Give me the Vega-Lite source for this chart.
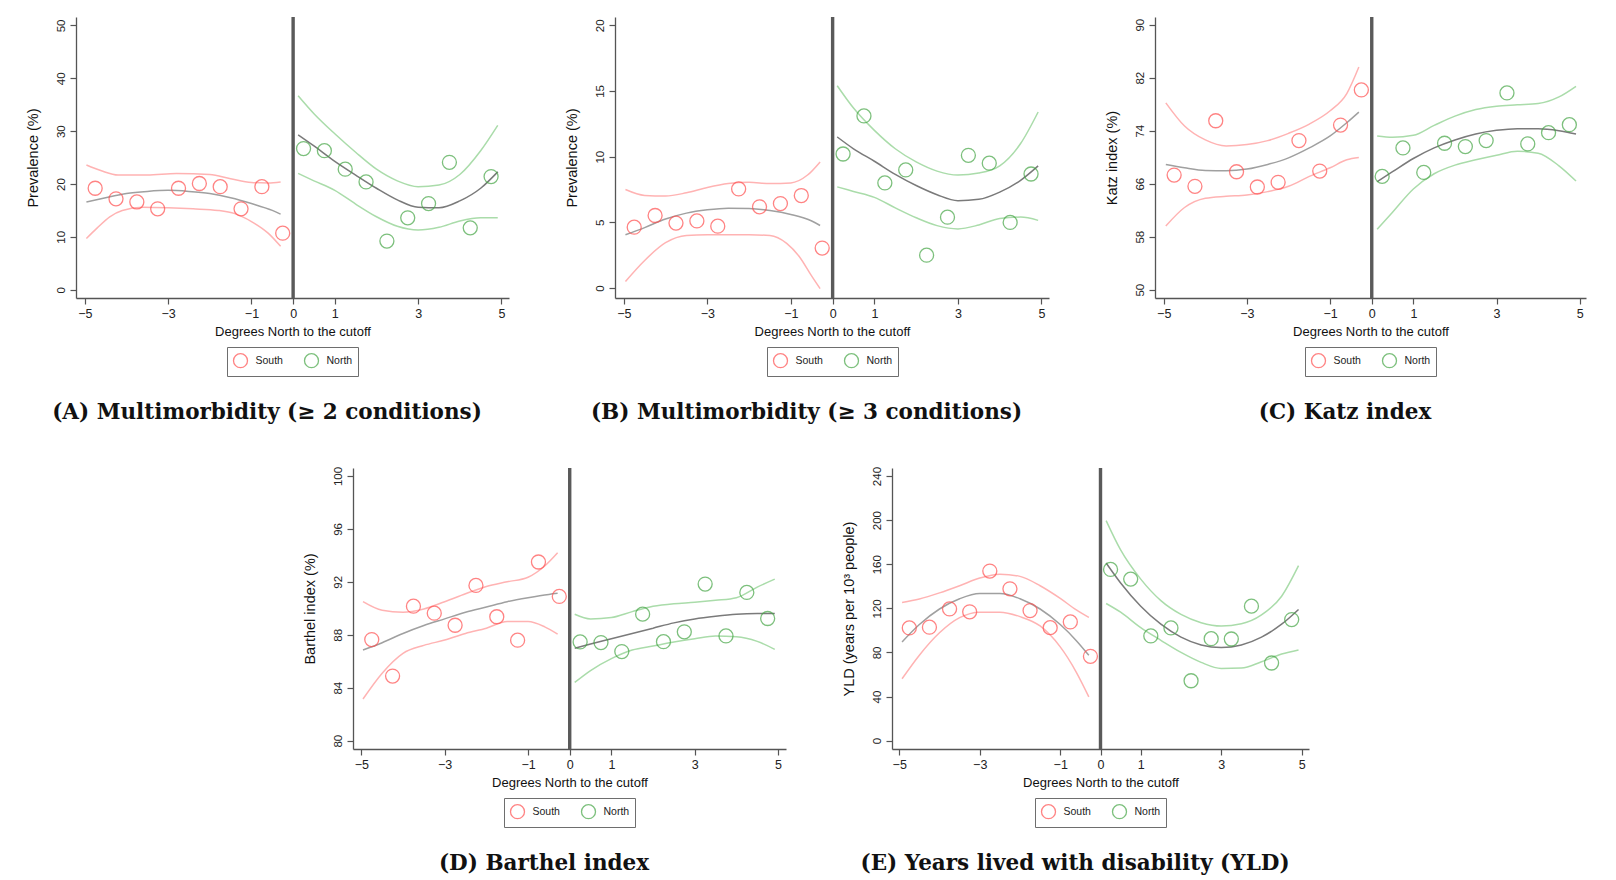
{
  "$schema": "https://vega.github.io/schema/vega-lite/v6.json",
  "background": "white",
  "padding": {"left": 25, "top": 15, "right": 5, "bottom": 5},
  "config": {
    "view": {"stroke": null},
    "axis": {
      "grid": false,
      "domainColor": "#555555",
      "domainWidth": 1.3,
      "tickColor": "#555555",
      "tickWidth": 1.2,
      "tickSize": 6,
      "labelFont": "Liberation Sans",
      "titleFont": "Liberation Sans",
      "labelColor": "#222222",
      "titleColor": "#111111",
      "titleFontWeight": "normal"
    },
    "axisX": {"labelFontSize": 12.5, "titleFontSize": 13, "labelPadding": 3, "titlePadding": 6},
    "axisY": {"labelAngle": -90, "labelAlign": "center", "labelBaseline": "bottom", "labelFontSize": 11.5, "titleFontSize": 14.5, "labelPadding": 4, "titlePadding": 15},
    "legend": {
      "orient": "bottom",
      "direction": "horizontal",
      "strokeColor": "#6e6e6e",
      "padding": 5.5,
      "symbolType": "circle",
      "symbolSize": 196,
      "symbolStrokeWidth": 1.3,
      "labelFont": "Liberation Sans",
      "labelFontSize": 10.5,
      "labelColor": "#222222",
      "labelOffset": 7,
      "columnPadding": 18,
      "offset": 8,
      "layout": {"bottom": {"anchor": "middle"}}
    },
    "title": {"orient": "bottom", "anchor": "middle", "frame": "bounds", "font": "DejaVu Serif", "fontSize": 21.5, "fontWeight": "bold", "color": "#111111", "offset": 25}
  },
  "datasets": {
    "ptsA": [
      {"side": "South", "x": -4.75, "y": 19.2}, {"side": "South", "x": -4.25, "y": 17.2}, {"side": "South", "x": -3.75, "y": 16.6}, {"side": "South", "x": -3.25, "y": 15.3}, {"side": "South", "x": -2.75, "y": 19.2},
      {"side": "South", "x": -2.25, "y": 20.1}, {"side": "South", "x": -1.75, "y": 19.5}, {"side": "South", "x": -1.25, "y": 15.3}, {"side": "South", "x": -0.75, "y": 19.5}, {"side": "South", "x": -0.25, "y": 10.7},
      {"side": "North", "x": 0.25, "y": 26.7}, {"side": "North", "x": 0.75, "y": 26.3}, {"side": "North", "x": 1.25, "y": 22.8}, {"side": "North", "x": 1.75, "y": 20.4}, {"side": "North", "x": 2.25, "y": 9.2},
      {"side": "North", "x": 2.75, "y": 13.6}, {"side": "North", "x": 3.25, "y": 16.3}, {"side": "North", "x": 3.75, "y": 24.1}, {"side": "North", "x": 4.25, "y": 11.7}, {"side": "North", "x": 4.75, "y": 21.4}
    ],
    "crvA": [
      {"line": "S-fit", "x": -4.96, "y": 16.6}, {"line": "S-fit", "x": -4.5, "y": 17.4}, {"line": "S-fit", "x": -4, "y": 18.2}, {"line": "S-fit", "x": -3.5, "y": 18.6}, {"line": "S-fit", "x": -3, "y": 18.8}, {"line": "S-fit", "x": -2.5, "y": 18.6}, {"line": "S-fit", "x": -2, "y": 18.2}, {"line": "S-fit", "x": -1.5, "y": 17.4}, {"line": "S-fit", "x": -1, "y": 16.3}, {"line": "S-fit", "x": -0.5, "y": 15.0}, {"line": "S-fit", "x": -0.3, "y": 14.3},
      {"line": "S-hi", "x": -4.96, "y": 23.6}, {"line": "S-hi", "x": -4.6, "y": 22.5}, {"line": "S-hi", "x": -4.2, "y": 21.7}, {"line": "S-hi", "x": -3.5, "y": 21.7}, {"line": "S-hi", "x": -2.8, "y": 22.0}, {"line": "S-hi", "x": -2, "y": 21.8}, {"line": "S-hi", "x": -1.5, "y": 21.0}, {"line": "S-hi", "x": -1, "y": 20.3}, {"line": "S-hi", "x": -0.6, "y": 20.2}, {"line": "S-hi", "x": -0.3, "y": 20.4},
      {"line": "S-lo", "x": -4.96, "y": 9.7}, {"line": "S-lo", "x": -4.7, "y": 11.7}, {"line": "S-lo", "x": -4.4, "y": 13.8}, {"line": "S-lo", "x": -4.1, "y": 15.0}, {"line": "S-lo", "x": -3.6, "y": 15.6}, {"line": "S-lo", "x": -3, "y": 15.5}, {"line": "S-lo", "x": -2.4, "y": 15.3}, {"line": "S-lo", "x": -1.8, "y": 15.0}, {"line": "S-lo", "x": -1.4, "y": 14.4}, {"line": "S-lo", "x": -1, "y": 12.9}, {"line": "S-lo", "x": -0.6, "y": 10.7}, {"line": "S-lo", "x": -0.3, "y": 8.2},
      {"line": "N-fit", "x": 0.12, "y": 29.3}, {"line": "N-fit", "x": 0.5, "y": 27.2}, {"line": "N-fit", "x": 1, "y": 24.3}, {"line": "N-fit", "x": 1.5, "y": 21.7}, {"line": "N-fit", "x": 2, "y": 19.2}, {"line": "N-fit", "x": 2.5, "y": 17.0}, {"line": "N-fit", "x": 3, "y": 15.6}, {"line": "N-fit", "x": 3.5, "y": 15.5}, {"line": "N-fit", "x": 4, "y": 16.8}, {"line": "N-fit", "x": 4.5, "y": 19.2}, {"line": "N-fit", "x": 4.91, "y": 22.3},
      {"line": "N-hi", "x": 0.12, "y": 36.7}, {"line": "N-hi", "x": 0.5, "y": 33.3}, {"line": "N-hi", "x": 1, "y": 29.5}, {"line": "N-hi", "x": 1.5, "y": 26.0}, {"line": "N-hi", "x": 2, "y": 22.8}, {"line": "N-hi", "x": 2.5, "y": 20.6}, {"line": "N-hi", "x": 3, "y": 19.5}, {"line": "N-hi", "x": 3.5, "y": 19.8}, {"line": "N-hi", "x": 4, "y": 21.8}, {"line": "N-hi", "x": 4.5, "y": 26.3}, {"line": "N-hi", "x": 4.91, "y": 31.1},
      {"line": "N-lo", "x": 0.12, "y": 22.0}, {"line": "N-lo", "x": 0.5, "y": 20.6}, {"line": "N-lo", "x": 1, "y": 18.8}, {"line": "N-lo", "x": 1.5, "y": 16.2}, {"line": "N-lo", "x": 2, "y": 13.8}, {"line": "N-lo", "x": 2.5, "y": 12.0}, {"line": "N-lo", "x": 3, "y": 11.3}, {"line": "N-lo", "x": 3.5, "y": 11.8}, {"line": "N-lo", "x": 4, "y": 13.0}, {"line": "N-lo", "x": 4.5, "y": 13.6}, {"line": "N-lo", "x": 4.91, "y": 13.6}
    ],
    "ptsB": [
      {"side": "South", "x": -4.75, "y": 4.63}, {"side": "South", "x": -4.25, "y": 5.52}, {"side": "South", "x": -3.75, "y": 4.94}, {"side": "South", "x": -3.25, "y": 5.11}, {"side": "South", "x": -2.75, "y": 4.71},
      {"side": "South", "x": -2.25, "y": 7.54}, {"side": "South", "x": -1.75, "y": 6.18}, {"side": "South", "x": -1.25, "y": 6.43}, {"side": "South", "x": -0.75, "y": 7.04}, {"side": "South", "x": -0.25, "y": 3.04},
      {"side": "North", "x": 0.25, "y": 10.2}, {"side": "North", "x": 0.75, "y": 13.1}, {"side": "North", "x": 1.25, "y": 8.0}, {"side": "North", "x": 1.75, "y": 8.99}, {"side": "North", "x": 2.25, "y": 2.5},
      {"side": "North", "x": 2.75, "y": 5.39}, {"side": "North", "x": 3.25, "y": 10.1}, {"side": "North", "x": 3.75, "y": 9.5}, {"side": "North", "x": 4.25, "y": 4.99}, {"side": "North", "x": 4.75, "y": 8.68}
    ],
    "crvB": [
      {"line": "S-fit", "x": -4.96, "y": 4.05}, {"line": "S-fit", "x": -4.5, "y": 4.6}, {"line": "S-fit", "x": -4, "y": 5.25}, {"line": "S-fit", "x": -3.5, "y": 5.7}, {"line": "S-fit", "x": -3, "y": 5.95}, {"line": "S-fit", "x": -2.5, "y": 6.07}, {"line": "S-fit", "x": -2, "y": 6.05}, {"line": "S-fit", "x": -1.5, "y": 5.9}, {"line": "S-fit", "x": -1, "y": 5.6}, {"line": "S-fit", "x": -0.5, "y": 5.1}, {"line": "S-fit", "x": -0.3, "y": 4.76},
      {"line": "S-hi", "x": -4.96, "y": 7.5}, {"line": "S-hi", "x": -4.5, "y": 7.05}, {"line": "S-hi", "x": -4, "y": 7.0}, {"line": "S-hi", "x": -3.5, "y": 7.25}, {"line": "S-hi", "x": -3, "y": 7.65}, {"line": "S-hi", "x": -2.5, "y": 7.95}, {"line": "S-hi", "x": -2, "y": 8.05}, {"line": "S-hi", "x": -1.5, "y": 7.95}, {"line": "S-hi", "x": -1, "y": 8.0}, {"line": "S-hi", "x": -0.6, "y": 8.6}, {"line": "S-hi", "x": -0.3, "y": 9.6},
      {"line": "S-lo", "x": -4.96, "y": 0.5}, {"line": "S-lo", "x": -4.5, "y": 2.1}, {"line": "S-lo", "x": -4, "y": 3.45}, {"line": "S-lo", "x": -3.5, "y": 4.0}, {"line": "S-lo", "x": -3, "y": 4.05}, {"line": "S-lo", "x": -2, "y": 4.05}, {"line": "S-lo", "x": -1.5, "y": 4.0}, {"line": "S-lo", "x": -1.1, "y": 3.4}, {"line": "S-lo", "x": -0.8, "y": 2.4}, {"line": "S-lo", "x": -0.5, "y": 0.9}, {"line": "S-lo", "x": -0.3, "y": -0.05},
      {"line": "N-fit", "x": 0.11, "y": 11.5}, {"line": "N-fit", "x": 0.5, "y": 10.6}, {"line": "N-fit", "x": 1, "y": 9.65}, {"line": "N-fit", "x": 1.5, "y": 8.65}, {"line": "N-fit", "x": 2, "y": 7.8}, {"line": "N-fit", "x": 2.5, "y": 7.1}, {"line": "N-fit", "x": 3, "y": 6.65}, {"line": "N-fit", "x": 3.5, "y": 6.75}, {"line": "N-fit", "x": 4, "y": 7.3}, {"line": "N-fit", "x": 4.5, "y": 8.2}, {"line": "N-fit", "x": 4.92, "y": 9.3},
      {"line": "N-hi", "x": 0.11, "y": 15.4}, {"line": "N-hi", "x": 0.5, "y": 13.7}, {"line": "N-hi", "x": 1, "y": 12.0}, {"line": "N-hi", "x": 1.5, "y": 10.6}, {"line": "N-hi", "x": 2, "y": 9.6}, {"line": "N-hi", "x": 2.5, "y": 8.9}, {"line": "N-hi", "x": 3, "y": 8.6}, {"line": "N-hi", "x": 3.5, "y": 8.75}, {"line": "N-hi", "x": 4, "y": 9.3}, {"line": "N-hi", "x": 4.5, "y": 11.0}, {"line": "N-hi", "x": 4.92, "y": 13.4},
      {"line": "N-lo", "x": 0.11, "y": 7.7}, {"line": "N-lo", "x": 0.5, "y": 7.35}, {"line": "N-lo", "x": 1, "y": 6.9}, {"line": "N-lo", "x": 1.5, "y": 6.1}, {"line": "N-lo", "x": 2, "y": 5.35}, {"line": "N-lo", "x": 2.5, "y": 4.75}, {"line": "N-lo", "x": 3, "y": 4.5}, {"line": "N-lo", "x": 3.5, "y": 4.8}, {"line": "N-lo", "x": 4, "y": 5.3}, {"line": "N-lo", "x": 4.5, "y": 5.4}, {"line": "N-lo", "x": 4.92, "y": 5.15}
    ],
    "ptsC": [
      {"side": "South", "x": -4.75, "y": 67.3}, {"side": "South", "x": -4.25, "y": 65.6}, {"side": "South", "x": -3.75, "y": 75.5}, {"side": "South", "x": -3.25, "y": 67.8}, {"side": "South", "x": -2.75, "y": 65.5},
      {"side": "South", "x": -2.25, "y": 66.2}, {"side": "South", "x": -1.75, "y": 72.5}, {"side": "South", "x": -1.25, "y": 67.9}, {"side": "South", "x": -0.75, "y": 74.85}, {"side": "South", "x": -0.25, "y": 80.15},
      {"side": "North", "x": 0.25, "y": 67.1}, {"side": "North", "x": 0.75, "y": 71.4}, {"side": "North", "x": 1.25, "y": 67.7}, {"side": "North", "x": 1.75, "y": 72.1}, {"side": "North", "x": 2.25, "y": 71.6},
      {"side": "North", "x": 2.75, "y": 72.5}, {"side": "North", "x": 3.25, "y": 79.7}, {"side": "North", "x": 3.75, "y": 72.0}, {"side": "North", "x": 4.25, "y": 73.7}, {"side": "North", "x": 4.75, "y": 74.9}
    ],
    "crvC": [
      {"line": "S-fit", "x": -4.95, "y": 68.9}, {"line": "S-fit", "x": -4.5, "y": 68.4}, {"line": "S-fit", "x": -4, "y": 68.0}, {"line": "S-fit", "x": -3.5, "y": 67.95}, {"line": "S-fit", "x": -3, "y": 68.2}, {"line": "S-fit", "x": -2.5, "y": 68.9}, {"line": "S-fit", "x": -2, "y": 69.9}, {"line": "S-fit", "x": -1.5, "y": 71.4}, {"line": "S-fit", "x": -1, "y": 73.2}, {"line": "S-fit", "x": -0.6, "y": 75.2}, {"line": "S-fit", "x": -0.31, "y": 76.8},
      {"line": "S-hi", "x": -4.95, "y": 78.2}, {"line": "S-hi", "x": -4.5, "y": 74.7}, {"line": "S-hi", "x": -4, "y": 72.6}, {"line": "S-hi", "x": -3.5, "y": 71.7}, {"line": "S-hi", "x": -3, "y": 71.9}, {"line": "S-hi", "x": -2.5, "y": 72.5}, {"line": "S-hi", "x": -2, "y": 73.6}, {"line": "S-hi", "x": -1.5, "y": 75.0}, {"line": "S-hi", "x": -1, "y": 77.0}, {"line": "S-hi", "x": -0.6, "y": 79.6}, {"line": "S-hi", "x": -0.31, "y": 83.6},
      {"line": "S-lo", "x": -4.95, "y": 59.6}, {"line": "S-lo", "x": -4.5, "y": 62.4}, {"line": "S-lo", "x": -4, "y": 63.8}, {"line": "S-lo", "x": -3.5, "y": 64.1}, {"line": "S-lo", "x": -3, "y": 64.3}, {"line": "S-lo", "x": -2.5, "y": 64.8}, {"line": "S-lo", "x": -2, "y": 65.6}, {"line": "S-lo", "x": -1.5, "y": 67.1}, {"line": "S-lo", "x": -1, "y": 68.4}, {"line": "S-lo", "x": -0.6, "y": 69.6}, {"line": "S-lo", "x": -0.31, "y": 69.95},
      {"line": "N-fit", "x": 0.13, "y": 66.3}, {"line": "N-fit", "x": 0.5, "y": 67.8}, {"line": "N-fit", "x": 1, "y": 69.8}, {"line": "N-fit", "x": 1.5, "y": 71.4}, {"line": "N-fit", "x": 2, "y": 72.6}, {"line": "N-fit", "x": 2.5, "y": 73.5}, {"line": "N-fit", "x": 3, "y": 74.05}, {"line": "N-fit", "x": 3.5, "y": 74.3}, {"line": "N-fit", "x": 4, "y": 74.3}, {"line": "N-fit", "x": 4.5, "y": 74.0}, {"line": "N-fit", "x": 4.91, "y": 73.5},
      {"line": "N-hi", "x": 0.13, "y": 73.2}, {"line": "N-hi", "x": 0.5, "y": 73.0}, {"line": "N-hi", "x": 1, "y": 73.3}, {"line": "N-hi", "x": 1.5, "y": 74.8}, {"line": "N-hi", "x": 2, "y": 76.2}, {"line": "N-hi", "x": 2.5, "y": 77.2}, {"line": "N-hi", "x": 3, "y": 77.7}, {"line": "N-hi", "x": 3.5, "y": 77.9}, {"line": "N-hi", "x": 4, "y": 78.1}, {"line": "N-hi", "x": 4.5, "y": 79.1}, {"line": "N-hi", "x": 4.91, "y": 80.7},
      {"line": "N-lo", "x": 0.13, "y": 59.1}, {"line": "N-lo", "x": 0.5, "y": 61.7}, {"line": "N-lo", "x": 1, "y": 65.2}, {"line": "N-lo", "x": 1.5, "y": 67.5}, {"line": "N-lo", "x": 2, "y": 68.8}, {"line": "N-lo", "x": 2.5, "y": 69.6}, {"line": "N-lo", "x": 3, "y": 70.3}, {"line": "N-lo", "x": 3.5, "y": 70.9}, {"line": "N-lo", "x": 4, "y": 70.6}, {"line": "N-lo", "x": 4.5, "y": 68.7}, {"line": "N-lo", "x": 4.91, "y": 66.4}
    ],
    "ptsD": [
      {"side": "South", "x": -4.75, "y": 87.64}, {"side": "South", "x": -4.25, "y": 84.88}, {"side": "South", "x": -3.75, "y": 90.16}, {"side": "South", "x": -3.25, "y": 89.63}, {"side": "South", "x": -2.75, "y": 88.72},
      {"side": "South", "x": -2.25, "y": 91.73}, {"side": "South", "x": -1.75, "y": 89.36}, {"side": "South", "x": -1.25, "y": 87.59}, {"side": "South", "x": -0.75, "y": 93.5}, {"side": "South", "x": -0.25, "y": 90.9},
      {"side": "North", "x": 0.25, "y": 87.46}, {"side": "North", "x": 0.75, "y": 87.41}, {"side": "North", "x": 1.25, "y": 86.73}, {"side": "North", "x": 1.75, "y": 89.56}, {"side": "North", "x": 2.25, "y": 87.48},
      {"side": "North", "x": 2.75, "y": 88.22}, {"side": "North", "x": 3.25, "y": 91.83}, {"side": "North", "x": 3.75, "y": 87.91}, {"side": "North", "x": 4.25, "y": 91.2}, {"side": "North", "x": 4.75, "y": 89.23}
    ],
    "crvD": [
      {"line": "S-fit", "x": -4.96, "y": 86.85}, {"line": "S-fit", "x": -4.5, "y": 87.4}, {"line": "S-fit", "x": -4, "y": 88.1}, {"line": "S-fit", "x": -3.5, "y": 88.7}, {"line": "S-fit", "x": -3, "y": 89.2}, {"line": "S-fit", "x": -2.5, "y": 89.7}, {"line": "S-fit", "x": -2, "y": 90.1}, {"line": "S-fit", "x": -1.5, "y": 90.5}, {"line": "S-fit", "x": -1, "y": 90.8}, {"line": "S-fit", "x": -0.5, "y": 91.05}, {"line": "S-fit", "x": -0.29, "y": 91.13},
      {"line": "S-hi", "x": -4.96, "y": 90.5}, {"line": "S-hi", "x": -4.5, "y": 89.85}, {"line": "S-hi", "x": -4, "y": 89.7}, {"line": "S-hi", "x": -3.5, "y": 89.95}, {"line": "S-hi", "x": -3, "y": 90.5}, {"line": "S-hi", "x": -2.5, "y": 91.1}, {"line": "S-hi", "x": -2, "y": 91.65}, {"line": "S-hi", "x": -1.5, "y": 92.0}, {"line": "S-hi", "x": -1, "y": 92.35}, {"line": "S-hi", "x": -0.6, "y": 93.2}, {"line": "S-hi", "x": -0.29, "y": 94.2},
      {"line": "S-lo", "x": -4.96, "y": 83.15}, {"line": "S-lo", "x": -4.5, "y": 85.1}, {"line": "S-lo", "x": -4, "y": 86.6}, {"line": "S-lo", "x": -3.5, "y": 87.2}, {"line": "S-lo", "x": -3, "y": 87.6}, {"line": "S-lo", "x": -2.5, "y": 88.1}, {"line": "S-lo", "x": -2, "y": 88.5}, {"line": "S-lo", "x": -1.5, "y": 89.0}, {"line": "S-lo", "x": -1, "y": 89.0}, {"line": "S-lo", "x": -0.6, "y": 88.6}, {"line": "S-lo", "x": -0.29, "y": 88.05},
      {"line": "N-fit", "x": 0.12, "y": 86.98}, {"line": "N-fit", "x": 0.5, "y": 87.3}, {"line": "N-fit", "x": 1, "y": 87.7}, {"line": "N-fit", "x": 1.5, "y": 88.1}, {"line": "N-fit", "x": 2, "y": 88.5}, {"line": "N-fit", "x": 2.5, "y": 88.9}, {"line": "N-fit", "x": 3, "y": 89.2}, {"line": "N-fit", "x": 3.5, "y": 89.4}, {"line": "N-fit", "x": 4, "y": 89.55}, {"line": "N-fit", "x": 4.5, "y": 89.6}, {"line": "N-fit", "x": 4.92, "y": 89.6},
      {"line": "N-hi", "x": 0.12, "y": 89.55}, {"line": "N-hi", "x": 0.5, "y": 89.2}, {"line": "N-hi", "x": 1, "y": 89.3}, {"line": "N-hi", "x": 1.5, "y": 89.75}, {"line": "N-hi", "x": 2, "y": 90.15}, {"line": "N-hi", "x": 2.5, "y": 90.35}, {"line": "N-hi", "x": 3, "y": 90.45}, {"line": "N-hi", "x": 3.5, "y": 90.6}, {"line": "N-hi", "x": 4, "y": 90.8}, {"line": "N-hi", "x": 4.5, "y": 91.6}, {"line": "N-hi", "x": 4.92, "y": 92.2},
      {"line": "N-lo", "x": 0.12, "y": 84.4}, {"line": "N-lo", "x": 0.5, "y": 85.3}, {"line": "N-lo", "x": 1, "y": 86.2}, {"line": "N-lo", "x": 1.5, "y": 86.85}, {"line": "N-lo", "x": 2, "y": 87.15}, {"line": "N-lo", "x": 2.5, "y": 87.45}, {"line": "N-lo", "x": 3, "y": 87.7}, {"line": "N-lo", "x": 3.5, "y": 87.9}, {"line": "N-lo", "x": 4, "y": 87.85}, {"line": "N-lo", "x": 4.5, "y": 87.5}, {"line": "N-lo", "x": 4.92, "y": 86.9}
    ],
    "ptsE": [
      {"side": "South", "x": -4.75, "y": 102.2}, {"side": "South", "x": -4.25, "y": 102.9}, {"side": "South", "x": -3.75, "y": 119.5}, {"side": "South", "x": -3.25, "y": 116.8}, {"side": "South", "x": -2.75, "y": 153.8},
      {"side": "South", "x": -2.25, "y": 137.7}, {"side": "South", "x": -1.75, "y": 118.0}, {"side": "South", "x": -1.25, "y": 102.5}, {"side": "South", "x": -0.75, "y": 107.7}, {"side": "South", "x": -0.25, "y": 76.5},
      {"side": "North", "x": 0.25, "y": 155.3}, {"side": "North", "x": 0.75, "y": 146.5}, {"side": "North", "x": 1.25, "y": 95.0}, {"side": "North", "x": 1.75, "y": 102.2}, {"side": "North", "x": 2.25, "y": 54.3},
      {"side": "North", "x": 2.75, "y": 92.5}, {"side": "North", "x": 3.25, "y": 92.2}, {"side": "North", "x": 3.75, "y": 122.0}, {"side": "North", "x": 4.25, "y": 70.4}, {"side": "North", "x": 4.75, "y": 109.8}
    ],
    "crvE": [
      {"line": "S-fit", "x": -4.93, "y": 89.5}, {"line": "S-fit", "x": -4.5, "y": 105.3}, {"line": "S-fit", "x": -4, "y": 119.4}, {"line": "S-fit", "x": -3.5, "y": 128.7}, {"line": "S-fit", "x": -3, "y": 133.4}, {"line": "S-fit", "x": -2.5, "y": 133.4}, {"line": "S-fit", "x": -2, "y": 128.7}, {"line": "S-fit", "x": -1.5, "y": 119.4}, {"line": "S-fit", "x": -1, "y": 105.3}, {"line": "S-fit", "x": -0.6, "y": 90.7}, {"line": "S-fit", "x": -0.29, "y": 77.4},
      {"line": "S-hi", "x": -4.93, "y": 125.3}, {"line": "S-hi", "x": -4.5, "y": 128.5}, {"line": "S-hi", "x": -4, "y": 134.0}, {"line": "S-hi", "x": -3.5, "y": 140.5}, {"line": "S-hi", "x": -3, "y": 147.5}, {"line": "S-hi", "x": -2.5, "y": 151.0}, {"line": "S-hi", "x": -2, "y": 149.0}, {"line": "S-hi", "x": -1.5, "y": 140.5}, {"line": "S-hi", "x": -1, "y": 129.0}, {"line": "S-hi", "x": -0.6, "y": 118.5}, {"line": "S-hi", "x": -0.29, "y": 111.7},
      {"line": "S-lo", "x": -4.93, "y": 56.1}, {"line": "S-lo", "x": -4.5, "y": 77.5}, {"line": "S-lo", "x": -4, "y": 97.8}, {"line": "S-lo", "x": -3.5, "y": 111.5}, {"line": "S-lo", "x": -3, "y": 116.5}, {"line": "S-lo", "x": -2.5, "y": 116.5}, {"line": "S-lo", "x": -2, "y": 112.5}, {"line": "S-lo", "x": -1.5, "y": 104.0}, {"line": "S-lo", "x": -1, "y": 85.0}, {"line": "S-lo", "x": -0.6, "y": 62.0}, {"line": "S-lo", "x": -0.29, "y": 39.7},
      {"line": "N-fit", "x": 0.14, "y": 161.1}, {"line": "N-fit", "x": 0.5, "y": 143.0}, {"line": "N-fit", "x": 1, "y": 121.9}, {"line": "N-fit", "x": 1.5, "y": 105.6}, {"line": "N-fit", "x": 2, "y": 93.9}, {"line": "N-fit", "x": 2.5, "y": 86.8}, {"line": "N-fit", "x": 3, "y": 84.5}, {"line": "N-fit", "x": 3.5, "y": 86.8}, {"line": "N-fit", "x": 4, "y": 93.9}, {"line": "N-fit", "x": 4.5, "y": 105.6}, {"line": "N-fit", "x": 4.92, "y": 119.0},
      {"line": "N-hi", "x": 0.14, "y": 199.6}, {"line": "N-hi", "x": 0.5, "y": 173.0}, {"line": "N-hi", "x": 1, "y": 146.5}, {"line": "N-hi", "x": 1.5, "y": 127.0}, {"line": "N-hi", "x": 2, "y": 114.5}, {"line": "N-hi", "x": 2.5, "y": 107.0}, {"line": "N-hi", "x": 3, "y": 104.0}, {"line": "N-hi", "x": 3.5, "y": 106.0}, {"line": "N-hi", "x": 4, "y": 114.0}, {"line": "N-hi", "x": 4.5, "y": 131.0}, {"line": "N-hi", "x": 4.92, "y": 158.7},
      {"line": "N-lo", "x": 0.14, "y": 124.4}, {"line": "N-lo", "x": 0.5, "y": 116.5}, {"line": "N-lo", "x": 1, "y": 102.5}, {"line": "N-lo", "x": 1.5, "y": 91.0}, {"line": "N-lo", "x": 2, "y": 80.0}, {"line": "N-lo", "x": 2.5, "y": 71.0}, {"line": "N-lo", "x": 3, "y": 65.5}, {"line": "N-lo", "x": 3.5, "y": 65.8}, {"line": "N-lo", "x": 4, "y": 71.5}, {"line": "N-lo", "x": 4.5, "y": 78.5}, {"line": "N-lo", "x": 4.92, "y": 82.2}
    ],
    "cutoff": [{"x": 0}]
  },
  "vconcat": [
    {
      "hconcat": [
        {
          "width": 433, "height": 281,
          "title": "(A) Multimorbidity (≥ 2 conditions)",
          "layer": [
            {
              "data": {"name": "crvA"},
              "mark": {"type": "line", "interpolate": "monotone"},
              "encoding": {
                "x": {"field": "x", "type": "quantitative", "scale": {"domain": [-5.21, 5.18], "nice": false, "zero": false}, "axis": {"values": [-5, -3, -1, 0, 1, 3, 5], "title": "Degrees North to the cutoff"}},
                "y": {"field": "y", "type": "quantitative", "scale": {"domain": [-1.57, 51.6], "nice": false, "zero": false}, "axis": {"values": [0, 5, 10, 15, 20, 25, 30, 35, 40, 45, 50], "title": "Prevalence (%)"}},
                "stroke": {"field": "line", "type": "nominal", "scale": {"domain": ["S-lo", "S-hi", "S-fit", "N-lo", "N-hi", "N-fit"], "range": ["#ffb3b3", "#ffb3b3", "#a0a0a0", "#aadcaa", "#aadcaa", "#7a7a7a"]}, "legend": null},
                "strokeWidth": {"field": "line", "type": "nominal", "scale": {"domain": ["S-lo", "S-hi", "S-fit", "N-lo", "N-hi", "N-fit"], "range": [1.5, 1.5, 3, 1.5, 1.5, 3]}, "legend": null}
              }
            },
            {
              "data": {"name": "ptsA"},
              "mark": {"type": "point", "shape": "circle", "filled": false, "size": 196, "strokeWidth": 1.3},
              "encoding": {
                "x": {"field": "x", "type": "quantitative"},
                "y": {"field": "y", "type": "quantitative"},
                "color": {"field": "side", "type": "nominal", "scale": {"domain": ["South", "North"], "range": ["#ff5050", "#46a646"]}, "legend": {"title": null}}
              }
            },
            {
              "data": {"name": "cutoff"},
              "mark": {"type": "rule", "color": "#5a5a5a", "strokeWidth": 3.4},
              "encoding": {"x": {"field": "x", "type": "quantitative"}}
            }
          ]
        },
        {
          "width": 434, "height": 281,
          "title": "(B) Multimorbidity (≥ 3 conditions)",
          "layer": [
            {
              "data": {"name": "crvB"},
              "mark": {"type": "line", "interpolate": "monotone"},
              "encoding": {
                "x": {"field": "x", "type": "quantitative", "scale": {"domain": [-5.21, 5.18], "nice": false, "zero": false}, "axis": {"values": [-5, -3, -1, 0, 1, 3, 5], "title": "Degrees North to the cutoff"}},
                "y": {"field": "y", "type": "quantitative", "scale": {"domain": [-0.76, 20.63], "nice": false, "zero": false}, "axis": {"values": [0, 5, 10, 15, 20], "title": "Prevalence (%)"}},
                "stroke": {"field": "line", "type": "nominal", "scale": {"domain": ["S-lo", "S-hi", "S-fit", "N-lo", "N-hi", "N-fit"], "range": ["#ffb3b3", "#ffb3b3", "#a0a0a0", "#aadcaa", "#aadcaa", "#7a7a7a"]}, "legend": null},
                "strokeWidth": {"field": "line", "type": "nominal", "scale": {"domain": ["S-lo", "S-hi", "S-fit", "N-lo", "N-hi", "N-fit"], "range": [1.5, 1.5, 3, 1.5, 1.5, 3]}, "legend": null}
              }
            },
            {
              "data": {"name": "ptsB"},
              "mark": {"type": "point", "shape": "circle", "filled": false, "size": 196, "strokeWidth": 1.3},
              "encoding": {
                "x": {"field": "x", "type": "quantitative"},
                "y": {"field": "y", "type": "quantitative"},
                "color": {"field": "side", "type": "nominal", "scale": {"domain": ["South", "North"], "range": ["#ff5050", "#46a646"]}, "legend": {"title": null}}
              }
            },
            {
              "data": {"name": "cutoff"},
              "mark": {"type": "rule", "color": "#5a5a5a", "strokeWidth": 3.4},
              "encoding": {"x": {"field": "x", "type": "quantitative"}}
            }
          ]
        },
        {
          "width": 431, "height": 281,
          "title": "(C) Katz index",
          "layer": [
            {
              "data": {"name": "crvC"},
              "mark": {"type": "line", "interpolate": "monotone"},
              "encoding": {
                "x": {"field": "x", "type": "quantitative", "scale": {"domain": [-5.21, 5.15], "nice": false, "zero": false}, "axis": {"values": [-5, -3, -1, 0, 1, 3, 5], "title": "Degrees North to the cutoff"}},
                "y": {"field": "y", "type": "quantitative", "scale": {"domain": [48.74, 91.16], "nice": false, "zero": false}, "axis": {"values": [50, 58, 66, 74, 82, 90], "title": "Katz index (%)"}},
                "stroke": {"field": "line", "type": "nominal", "scale": {"domain": ["S-lo", "S-hi", "S-fit", "N-lo", "N-hi", "N-fit"], "range": ["#ffb3b3", "#ffb3b3", "#a0a0a0", "#aadcaa", "#aadcaa", "#7a7a7a"]}, "legend": null},
                "strokeWidth": {"field": "line", "type": "nominal", "scale": {"domain": ["S-lo", "S-hi", "S-fit", "N-lo", "N-hi", "N-fit"], "range": [1.5, 1.5, 3, 1.5, 1.5, 3]}, "legend": null}
              }
            },
            {
              "data": {"name": "ptsC"},
              "mark": {"type": "point", "shape": "circle", "filled": false, "size": 196, "strokeWidth": 1.3},
              "encoding": {
                "x": {"field": "x", "type": "quantitative"},
                "y": {"field": "y", "type": "quantitative"},
                "color": {"field": "side", "type": "nominal", "scale": {"domain": ["South", "North"], "range": ["#ff5050", "#46a646"]}, "legend": {"title": null}}
              }
            },
            {
              "data": {"name": "cutoff"},
              "mark": {"type": "rule", "color": "#5a5a5a", "strokeWidth": 3.4},
              "encoding": {"x": {"field": "x", "type": "quantitative"}}
            }
          ]
        }
      ],
      "spacing": 55,
      "resolve": {"scale": {"color": "independent"}, "legend": {"color": "independent"}}
    },
    {
      "hconcat": [
        {
          "width": 433, "height": 281,
          "title": "(D) Barthel index",
          "layer": [
            {
              "data": {"name": "crvD"},
              "mark": {"type": "line", "interpolate": "monotone"},
              "encoding": {
                "x": {"field": "x", "type": "quantitative", "scale": {"domain": [-5.2, 5.19], "nice": false, "zero": false}, "axis": {"values": [-5, -3, -1, 0, 1, 3, 5], "title": "Degrees North to the cutoff"}},
                "y": {"field": "y", "type": "quantitative", "scale": {"domain": [79.37, 100.6], "nice": false, "zero": false}, "axis": {"values": [80, 84, 88, 92, 96, 100], "title": "Barthel index (%)"}},
                "stroke": {"field": "line", "type": "nominal", "scale": {"domain": ["S-lo", "S-hi", "S-fit", "N-lo", "N-hi", "N-fit"], "range": ["#ffb3b3", "#ffb3b3", "#a0a0a0", "#aadcaa", "#aadcaa", "#7a7a7a"]}, "legend": null},
                "strokeWidth": {"field": "line", "type": "nominal", "scale": {"domain": ["S-lo", "S-hi", "S-fit", "N-lo", "N-hi", "N-fit"], "range": [1.5, 1.5, 3, 1.5, 1.5, 3]}, "legend": null}
              }
            },
            {
              "data": {"name": "ptsD"},
              "mark": {"type": "point", "shape": "circle", "filled": false, "size": 196, "strokeWidth": 1.3},
              "encoding": {
                "x": {"field": "x", "type": "quantitative"},
                "y": {"field": "y", "type": "quantitative"},
                "color": {"field": "side", "type": "nominal", "scale": {"domain": ["South", "North"], "range": ["#ff5050", "#46a646"]}, "legend": {"title": null}}
              }
            },
            {
              "data": {"name": "cutoff"},
              "mark": {"type": "rule", "color": "#5a5a5a", "strokeWidth": 3.4},
              "encoding": {"x": {"field": "x", "type": "quantitative"}}
            }
          ]
        },
        {
          "width": 417, "height": 281,
          "title": "(E) Years lived with disability (YLD)",
          "layer": [
            {
              "data": {"name": "crvE"},
              "mark": {"type": "line", "interpolate": "monotone"},
              "encoding": {
                "x": {"field": "x", "type": "quantitative", "scale": {"domain": [-5.18, 5.18], "nice": false, "zero": false}, "axis": {"values": [-5, -3, -1, 0, 1, 3, 5], "title": "Degrees North to the cutoff"}},
                "y": {"field": "y", "type": "quantitative", "scale": {"domain": [-7.6, 247.3], "nice": false, "zero": false}, "axis": {"values": [0, 40, 80, 120, 160, 200, 240], "title": "YLD (years per 10³ people)"}},
                "stroke": {"field": "line", "type": "nominal", "scale": {"domain": ["S-lo", "S-hi", "S-fit", "N-lo", "N-hi", "N-fit"], "range": ["#ffb3b3", "#ffb3b3", "#a0a0a0", "#aadcaa", "#aadcaa", "#7a7a7a"]}, "legend": null},
                "strokeWidth": {"field": "line", "type": "nominal", "scale": {"domain": ["S-lo", "S-hi", "S-fit", "N-lo", "N-hi", "N-fit"], "range": [1.5, 1.5, 3, 1.5, 1.5, 3]}, "legend": null}
              }
            },
            {
              "data": {"name": "ptsE"},
              "mark": {"type": "point", "shape": "circle", "filled": false, "size": 196, "strokeWidth": 1.3},
              "encoding": {
                "x": {"field": "x", "type": "quantitative"},
                "y": {"field": "y", "type": "quantitative"},
                "color": {"field": "side", "type": "nominal", "scale": {"domain": ["South", "North"], "range": ["#ff5050", "#46a646"]}, "legend": {"title": null}}
              }
            },
            {
              "data": {"name": "cutoff"},
              "mark": {"type": "rule", "color": "#5a5a5a", "strokeWidth": 3.4},
              "encoding": {"x": {"field": "x", "type": "quantitative"}}
            }
          ]
        }
      ],
      "spacing": 55,
      "resolve": {"scale": {"color": "independent"}, "legend": {"color": "independent"}}
    }
  ],
  "spacing": 43,
  "center": true,
  "resolve": {"scale": {"color": "independent"}, "legend": {"color": "independent"}}
}
